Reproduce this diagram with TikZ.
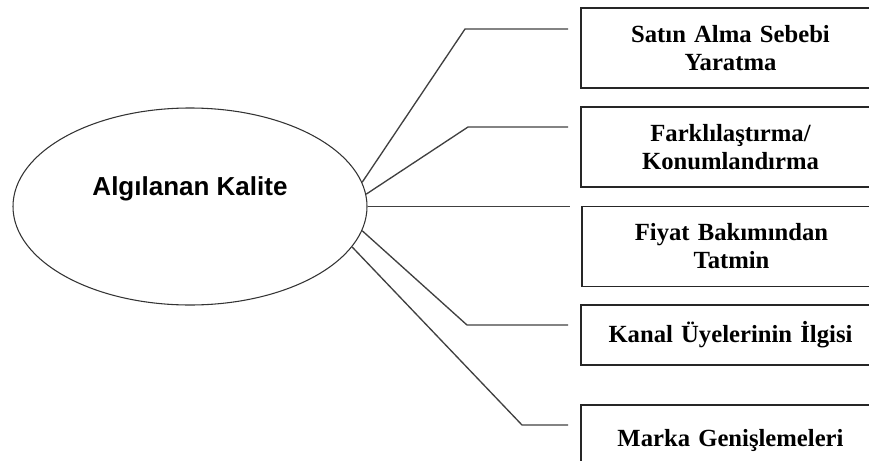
\documentclass[tikz,border=0pt]{standalone}
\usepackage{fontspec}
\setmainfont{Liberation Serif}
\newfontfamily\ovalfont{Liberation Sans}
\usepackage{xcolor}
\usetikzlibrary{shapes,positioning}

\begin{document}
\begin{tikzpicture}[
    x=0.75pt, y=-0.75pt,
    oval/.style={ellipse, draw=black!80, line width=0.8pt, minimum width=265.5pt, minimum height=147.75pt, inner sep=0pt, font=\ovalfont\fontsize{19.5}{23}\selectfont\bfseries},
    kutu/.style={rectangle, draw=black!85, line width=0.9pt, minimum width=224.25pt, minimum height=60pt, text width=215pt, align=center, inner sep=0pt, font=\fontsize{18.5}{21}\selectfont\bfseries},
    edge/.style={draw=black!75, line width=1pt}
]
    \useasboundingbox (0,0) rectangle (869,461);
    \clip (0,0) rectangle (869,461);

    % Main node
    \node[oval] (kalite) at (190,206.5) {\smash{\raisebox{7.9pt}{Algılanan Kalite}}};

    % Boxes
    \node[kutu] (sebep) at (730.5,48) {Satın Alma Sebebi\\Yaratma};
    \node[kutu] (konum) at (730.5,147) {Farklılaştırma/\\Konumlandırma};
    \node[kutu] (fiyat) at (731.5,246.5) {Fiyat Bakımından\\Tatmin};
    \node[kutu, minimum height=45pt] (kanal) at (730.5,335) {Kanal Üyelerinin İlgisi};
    \node[kutu, minimum height=52.5pt] (marka) at (730.5,440) {Marka Genişlemeleri};

    % Bend and end points
    \coordinate (k1) at (465,29);  \coordinate (e1) at (568,29);
    \coordinate (k2) at (468,127); \coordinate (e2) at (568,127);
    \coordinate (e3) at (570,206.5);
    \coordinate (k4) at (467,325); \coordinate (e4) at (568,325);
    \coordinate (k5) at (522,425); \coordinate (e5) at (568,425);

    % Connectors
    \draw[edge] (kalite.8) -- (k1) -- (e1);
    \draw[edge] (kalite.4) -- (k2) -- (e2);
    \draw[edge] (kalite.east) -- (e3);
    \draw[edge] (kalite.-8) -- (k4) -- (e4);
    \draw[edge] (kalite.-14) -- (k5) -- (e5);
\end{tikzpicture}
\end{document}
